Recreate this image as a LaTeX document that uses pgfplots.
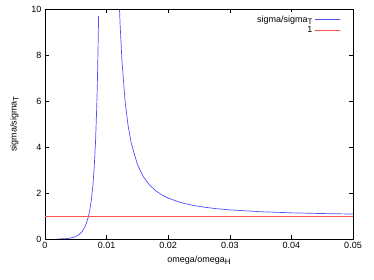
\documentclass[border=0pt]{standalone}
\usepackage{fontspec}
\setmainfont{Liberation Sans}
\usepackage{pgfplots}
\pgfplotsset{compat=1.18}
\definecolor{gblue}{RGB}{80,80,255}
\definecolor{gred}{RGB}{255,80,80}
\newcommand{\sub}[1]{\raisebox{-0.4ex}{\fontsize{8}{8}\selectfont #1}}
\begin{document}
\begin{tikzpicture}
\useasboundingbox (0,0) rectangle (374pt,280pt);
\begin{axis}[
  at={(45pt,41pt)}, anchor=south west,
  scale only axis, width=308pt, height=230pt,
  xmin=0, xmax=0.05, ymin=0, ymax=10,
  scaled x ticks=false,
  xtick={0,0.01,0.02,0.03,0.04,0.05},
  xticklabels={0,0.01,0.02,0.03,0.04,0.05},
  ytick={0,2,4,6,8,10},
  yticklabels={0,2,4,6,8,10},
  tick align=inside, major tick length=4pt,
  tick style={black, line width=0.5pt},
  axis line style={line width=0.6pt},
  every tick label/.append style={font=\fontsize{9}{10}\selectfont},
  xlabel={omega/omega\sub{H}},
  ylabel={sigma/sigma\sub{T}},
  label style={font=\fontsize{9}{10}\selectfont},
  xlabel style={yshift=0pt},
  ylabel style={yshift=6pt},
  legend style={at={(rel axis cs:0.964,0.985)}, anchor=north east, draw=white, fill=white,
    font=\fontsize{9}{10}\selectfont, row sep=-1.5pt, inner sep=1pt},
  legend cell align=right,
  legend plot pos=right,
  legend image post style={xscale=1.5},
]
\addplot[color=gblue, line width=0.7pt, forget plot] coordinates {
(0.0020,0.00174) (0.0030,0.00978) (0.0035,0.0195) (0.0040,0.0363) (0.0045,0.0645)
(0.0050,0.1111) (0.0055,0.1881) (0.0060,0.3164) (0.0065,0.5353) (0.0070,0.9231)
(0.00725,1.2277) (0.0075,1.6531) (0.00775,2.2617) (0.0080,3.1605) (0.0082,4.2127)
(0.0084,5.7443) (0.0085,6.7787) (0.0086,8.0667) (0.0087,9.694)
};
\addplot[color=gblue, line width=0.7pt] coordinates {
(0.0121,9.952) (0.0122,9.287) (0.0125,7.716) (0.0130,5.999) (0.0135,4.910)
(0.0140,4.1684) (0.0150,3.24) (0.0160,2.6930) (0.0170,2.3381) (0.0180,2.0922)
(0.0190,1.9131) (0.0200,1.7778) (0.0220,1.5887) (0.0240,1.4643) (0.0260,1.3774)
(0.0280,1.3137) (0.0300,1.2656) (0.0350,1.1857) (0.0400,1.1378) (0.0450,1.1066)
(0.0500,1.0851)
};
\addlegendentry{sigma/sigma\sub{T}}
\addplot[color=gred, line width=0.7pt] coordinates {(0,1) (0.05,1)};
\addlegendentry{1}
\end{axis}
\end{tikzpicture}
\end{document}
